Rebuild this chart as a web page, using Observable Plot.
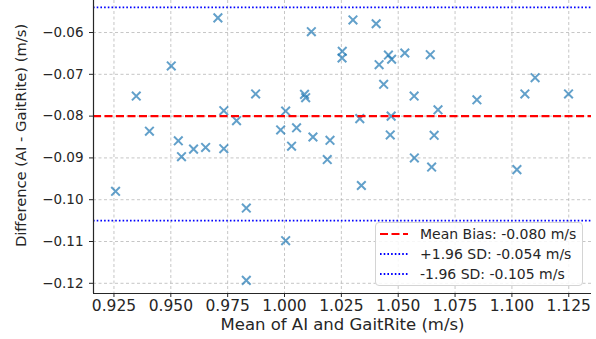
<!DOCTYPE html>
<html>
<head>
<meta charset="utf-8">
<script src="https://cdn.jsdelivr.net/npm/d3@7"></script>
<script src="https://cdn.jsdelivr.net/npm/@observablehq/plot@0.6"></script>
<style>
  body { margin: 0; background: #fff; font-family: "DejaVu Sans", sans-serif; }
  #wrap { position: relative; width: 596px; height: 339px; overflow: hidden; background: #fff; }
  #wrap svg { display: block; }
  .legend { position: absolute; left: 375px; top: 222px; width: 206px; height: 62px;
            border: 1px solid #d4d4d4; border-radius: 4px; background: rgba(255,255,255,0.85);
            font-family: "DejaVu Sans", sans-serif; font-size: 14px; color: #262626; }
  .row { position: absolute; left: 4px; height: 20px; display: flex; align-items: center; white-space: nowrap; }
  .row svg { margin-right: 12px; }
</style>
</head>
<body>
<div id="wrap"></div>
<script>
// Mean of AI and GaitRite (m/s)
const meanSpeed = [
  0.9257, 0.9348, 0.9406, 0.9502, 0.9533, 0.9547, 0.9600, 0.9653, 0.9707, 0.9733,
  0.9733, 0.9789, 0.9832, 0.9832, 0.9873, 0.9983, 1.0005, 1.0005, 1.0031, 1.0053,
  1.0088, 1.0093, 1.0118, 1.0125, 1.0188, 1.0200, 1.0254, 1.0253, 1.0301, 1.0331,
  1.0338, 1.0403, 1.0416, 1.0436, 1.0457, 1.0471, 1.0469, 1.0465, 1.0529, 1.0570,
  1.0571, 1.0641, 1.0647, 1.0658, 1.0675, 1.0846, 1.1022, 1.1057, 1.1102, 1.1249
];
// Difference (AI - GaitRite) (m/s)
const difference = [
  -0.0980, -0.0752, -0.0836, -0.0680, -0.0859, -0.0897, -0.0879, -0.0875, -0.0565, -0.0787,
  -0.0878, -0.0811, -0.1020, -0.1193, -0.0747, -0.0833, -0.0788, -0.1098, -0.0872, -0.0828,
  -0.0748, -0.0756, -0.0598, -0.0850, -0.0904, -0.0858, -0.0645, -0.0661, -0.0570, -0.0806,
  -0.0966, -0.0579, -0.0677, -0.0724, -0.0654, -0.0664, -0.0800, -0.0845, -0.0649, -0.0752,
  -0.0900, -0.0653, -0.0922, -0.0846, -0.0785, -0.0761, -0.0928, -0.0747, -0.0708, -0.0747
];
const meanBias = -0.080;
const upperLoA = -0.054;
const lowerLoA = -0.105;
const xTicks = [0.925, 0.950, 0.975, 1.000, 1.025, 1.050, 1.075, 1.100, 1.125];
const yTicks = [-0.12, -0.11, -0.10, -0.09, -0.08, -0.07, -0.06];
const xDomain = [0.916, 1.135];
const yDomain = [-0.12244, -0.05234];
const xLabel = "Mean of AI and GaitRite (m/s)";
const yLabel = "Difference (AI - GaitRite) (m/s)";
const legendItems = [
  {label: "Mean Bias: -0.080 m/s", color: "red", dash: "8,3.5", width: 2.2},
  {label: "+1.96 SD: -0.054 m/s", color: "blue", dash: "1.6,2.1", width: 1.8},
  {label: "-1.96 SD: -0.105 m/s", color: "blue", dash: "1.6,2.1", width: 1.8}
];

const points = meanSpeed.map((m, i) => ({m, d: difference[i]}));

const chart = Plot.plot({
  width: 596,
  height: 339,
  marginLeft: 93,
  marginRight: 5,
  marginTop: 0,
  marginBottom: 46,
  x: {domain: xDomain},
  y: {domain: yDomain},
  style: {fontFamily: "DejaVu Sans, sans-serif", color: "#262626", background: "white", overflow: "visible"},
  marks: [
    Plot.gridX(xTicks, {stroke: "#b0b0b0", strokeOpacity: 0.8, strokeWidth: 0.9, strokeDasharray: "3,2.5"}),
    Plot.gridY(yTicks, {stroke: "#b0b0b0", strokeOpacity: 0.8, strokeWidth: 0.9, strokeDasharray: "3,2.5"}),
    Plot.dot(points, {x: "m", y: "d", symbol: "times", r: 4, stroke: "#1f77b4", strokeOpacity: 0.7, strokeWidth: 2}),
    Plot.ruleY([meanBias], {stroke: "red", strokeWidth: 2.2, strokeDasharray: "8,3.5"}),
    Plot.ruleY([upperLoA, lowerLoA], {stroke: "blue", strokeWidth: 1.8, strokeDasharray: "1.6,2.1"}),
    Plot.ruleX([xDomain[0]], {stroke: "#262626", strokeWidth: 1.2}),
    Plot.ruleY([yDomain[0]], {stroke: "#262626", strokeWidth: 1.2}),
    Plot.axisX(xTicks, {tickFormat: d3.format(".3f"), tickSize: 4, tickPadding: 2.5, fontSize: 15.5, label: null, stroke: "#262626"}),
    Plot.axisY(yTicks, {tickFormat: d3.format(".2f"), tickSize: 4, tickPadding: 6, fontSize: 13.5, label: null, stroke: "#262626"}),
    Plot.text([xLabel], {frameAnchor: "bottom", dy: 36.5, fontSize: 16.5, fill: "#262626"}),
    Plot.text([yLabel], {frameAnchor: "left", textAnchor: "middle", rotate: -90, dx: -72, dy: -11.5, fontSize: 14.7, fill: "#262626"})
  ]
});

const wrap = document.getElementById("wrap");
wrap.appendChild(chart);

const legend = document.createElement("div");
legend.className = "legend";
legendItems.forEach((it, i) => {
  const row = document.createElement("div");
  row.className = "row";
  row.style.top = (1.3 + i * 20) + "px";
  row.innerHTML = `<svg width="28" height="6"><line x1="0" y1="3" x2="28" y2="3" stroke="${it.color}" stroke-width="${it.width}" stroke-dasharray="${it.dash}"/></svg><span>${it.label}</span>`;
  legend.appendChild(row);
});
wrap.appendChild(legend);
</script>
</body>
</html>
